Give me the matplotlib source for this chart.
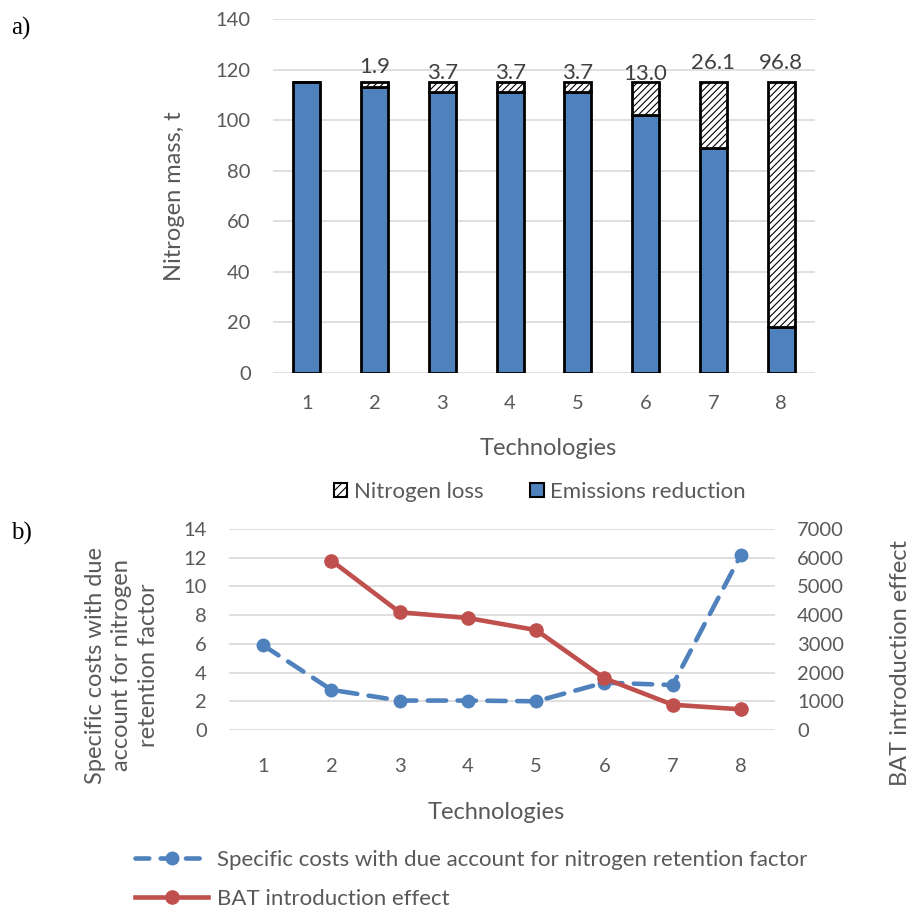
import matplotlib
matplotlib.use("Agg")
import matplotlib.pyplot as plt
import numpy as np
from matplotlib.lines import Line2D
from matplotlib.patches import Patch

plt.rcParams['font.family'] = ['Lato', 'DejaVu Sans']
plt.rcParams['hatch.linewidth'] = 0.8

# ---- data ----
technologies = ["1", "2", "3", "4", "5", "6", "7", "8"]
emissions_reduction = [115.0, 113.1, 111.3, 111.3, 111.3, 102.0, 88.9, 18.2]
nitrogen_loss = [0.0, 1.9, 3.7, 3.7, 3.7, 13.0, 26.1, 96.8]
loss_labels = ["", "1.9", "3.7", "3.7", "3.7", "13.0", "26.1", "96.8"]

specific_costs = [5.9, 2.8, 2.05, 2.05, 2.0, 3.3, 3.13, 12.2]
bat_tech = ["2", "3", "4", "5", "6", "7", "8"]
bat_effect = [5900, 4100, 3900, 3480, 1800, 880, 720]

blue = "#4F81BD"
red = "#C0504D"
grey_txt = "#595959"
grid_c = "#D9D9D9"

fig = plt.figure(figsize=(9.12, 9.10), dpi=100)

# ---------- a) ----------
ax1 = fig.add_axes([0.2993, 0.5901, 0.5943, 0.389])
x = np.arange(len(technologies))
ax1.bar(x, emissions_reduction, width=0.40, color=blue, edgecolor="black", linewidth=2, zorder=3)
ax1.bar(x, nitrogen_loss, width=0.40, bottom=emissions_reduction, color="white",
        edgecolor="black", linewidth=2, hatch="/////", zorder=3)
label_offsets = [0, 11, 7, 7, 7, 6, 14, 14]
for i, lab in enumerate(loss_labels):
    if lab:
        ax1.annotate(lab, (x[i], emissions_reduction[i] + nitrogen_loss[i]),
                     xytext=(0, label_offsets[i]), textcoords="offset points",
                     ha="center", va="center", fontsize=16, color="#404040", zorder=5)
ax1.set_ylim(0, 140)
ax1.set_yticks(range(0, 141, 20))
ax1.set_xlim(-0.5, len(technologies) - 0.5)
ax1.set_xticks(x)
ax1.set_xticklabels(technologies)
ax1.yaxis.grid(True, color=grid_c, linewidth=1.2, zorder=0)
ax1.set_axisbelow(True)
for s in ax1.spines.values():
    s.set_visible(False)
ax1.tick_params(axis="y", length=0, labelsize=14.5, colors=grey_txt, pad=16)
ax1.tick_params(axis="x", length=0, labelsize=14.5, colors=grey_txt, pad=16)
ax1.set_ylabel("Nitrogen mass, t", fontsize=17, color=grey_txt)
ax1.yaxis.set_label_coords(-0.162, 0.5)
ax1.set_xlabel("Technologies", fontsize=17, color=grey_txt)
ax1.xaxis.label.set_va("center")
ax1.xaxis.set_label_coords(0.507, -0.212)
handles = [Patch(facecolor="white", edgecolor="black", hatch="////", linewidth=1.5),
           Patch(facecolor=blue, edgecolor="black", linewidth=1.5)]
fig.legend(handles, ["Nitrogen loss", "Emissions reduction"], loc="center",
           bbox_to_anchor=(0.592, 0.4593), ncol=2, frameon=False, fontsize=16,
           labelcolor=grey_txt, handlelength=0.6, handleheight=0.6, columnspacing=2.1,
           handletextpad=0.3, borderpad=0, borderaxespad=0)

fig.text(0.012, 0.969, "a)", fontsize=18, family="Liberation Serif", va="center")
fig.text(0.012, 0.414, "b)", fontsize=18, family="Liberation Serif", va="center")

# ---------- b) ----------
ax2 = fig.add_axes([0.2511, 0.1978, 0.5987, 0.2209])
xi = np.arange(len(technologies))
ax2.plot(xi, specific_costs, color=blue, linewidth=3.3, linestyle=(0, (4, 2.5)),
         dash_capstyle="round", marker="o", markersize=9, zorder=3)
ax2.set_ylim(0, 14)
ax2.set_yticks(range(0, 15, 2))
ax2.set_xlim(-0.5, len(technologies) - 0.5)
ax2.set_xticks(xi)
ax2.set_xticklabels(technologies)
ax2.yaxis.grid(True, color=grid_c, linewidth=1.2, zorder=0)
for s in ax2.spines.values():
    s.set_visible(False)
ax2.tick_params(axis="y", length=0, labelsize=14.5, colors=grey_txt, pad=16)
ax2.tick_params(axis="x", length=0, labelsize=14.5, colors=grey_txt, pad=20)
ax2.set_ylabel("Specific costs with due\naccount for nitrogen\nretention factor",
               fontsize=17, color=grey_txt, linespacing=1.3)
ax2.yaxis.label.set_va("center")
ax2.yaxis.set_label_coords(-0.196, 0.323)
ax2.set_xlabel("Technologies", fontsize=17, color=grey_txt)
ax2.xaxis.label.set_va("center")
ax2.xaxis.set_label_coords(0.49, -0.408)

ax3 = ax2.twinx()
xb = [technologies.index(t) for t in bat_tech]
ax3.plot(xb, bat_effect, color=red, linewidth=3.3, marker="o", markersize=9.5, zorder=4)
ax3.set_ylim(0, 7000)
ax3.set_yticks(range(0, 7001, 1000))
for s in ax3.spines.values():
    s.set_visible(False)
ax3.tick_params(length=0, labelsize=14.5, colors=grey_txt, pad=16)
ax3.set_ylabel("BAT introduction effect", fontsize=17, color=grey_txt)
ax3.yaxis.label.set_va("center")
ax3.yaxis.set_label_coords(1.229, 0.333)
ax3.set_xlim(-0.5, len(technologies) - 0.5)

lh = [Line2D([0], [0], color=blue, linewidth=3.3, linestyle=(0, (3, 2.5)),
             dash_capstyle="round", marker="o", markersize=9),
      Line2D([0], [0], color=red, linewidth=3.3, marker="o", markersize=9.5)]
fig.legend(lh, ["Specific costs with due account for nitrogen retention factor",
                "BAT introduction effect"],
           loc="upper left", bbox_to_anchor=(0.148, 0.066), frameon=False,
           fontsize=16, labelcolor=grey_txt, handlelength=3.3, handletextpad=0.4,
           labelspacing=0.85, borderpad=0, borderaxespad=0)

fig.savefig("out.png", dpi=100)
